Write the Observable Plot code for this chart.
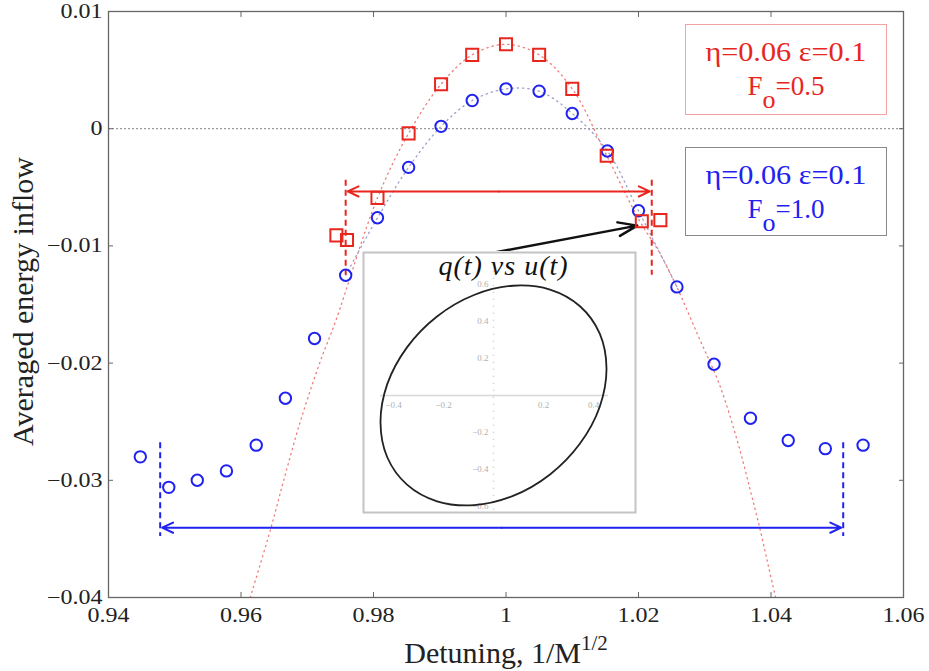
<!DOCTYPE html>
<html><head><meta charset="utf-8">
<script src="https://cdn.jsdelivr.net/npm/d3@7"></script>
<script src="https://cdn.jsdelivr.net/npm/@observablehq/plot@0.6"></script>
<style>
body{margin:0;background:#fff;}
#wrap{position:relative;width:929px;height:671px;font-family:"Liberation Serif","Times New Roman",serif;overflow:hidden;}
#wrap svg text, #wrap svg tspan{font-family:"Liberation Serif","Times New Roman",serif;}
.leg{position:absolute;box-sizing:border-box;text-align:center;line-height:30px;background:#fff;font-family:"Liberation Serif",serif;}
.leg .l1{font-size:27px;display:inline-block;transform:scaleX(1.12);font-family:"Liberation Serif",serif;}
.leg .l2{font-size:27px;}
.leg .sub{position:relative;top:13px;font-size:26px;}
#inset{position:absolute;left:362px;top:251px;}
</style></head><body><div id="wrap"></div>
<script>
// ---- data: F0 = 1.0 (blue circles)
const blueX = [0.9448,0.9491,0.9534,0.9578,0.9623,0.9667,0.9711,0.9758,0.9806,0.9853,0.9902,0.9949,1.0000,1.0050,1.0100,1.0153,1.0200,1.0258,1.0314,1.0369,1.0426,1.0482,1.0539];
const blueY = [-0.0280,-0.0306,-0.0300,-0.0292,-0.0270,-0.0230,-0.0179,-0.0125,-0.0076,-0.0033,0.0002,0.0024,0.0034,0.0032,0.0013,-0.0019,-0.0070,-0.0135,-0.0201,-0.0247,-0.0266,-0.0273,-0.0270];
// ---- data: F0 = 0.5 (red squares)
const redX = [0.9744,0.9760,0.9806,0.9853,0.9902,0.9949,1.0000,1.0050,1.0100,1.0152,1.0205,1.0233];
const redY = [-0.0091,-0.0095,-0.0059,-0.0004,0.0038,0.0063,0.0072,0.0063,0.0034,-0.0023,-0.0079,-0.0078];
// ---- dotted curves
const redCurveX = [0.9614,0.9645,0.9664,0.9690,0.9720,0.9743,0.9806,0.9853,0.9902,0.9949,1.0000,1.0050,1.0100,1.0152,1.0203,1.0230,1.0257,1.0291,1.0322,1.0349,1.0369,1.0384,1.0396,1.0407];
const redCurveY = [-0.0400,-0.0341,-0.0301,-0.0249,-0.0198,-0.0164,-0.0059,-0.0004,0.0038,0.0063,0.0072,0.0063,0.0034,-0.0023,-0.0080,-0.0104,-0.0134,-0.0178,-0.0218,-0.0266,-0.0309,-0.0343,-0.0373,-0.0400];
const blueCurveX = [0.9758,0.9806,0.9853,0.9902,0.9949,1.0000,1.0050,1.0100,1.0153,1.0200,1.0258];
const blueCurveY = [-0.0125,-0.0076,-0.0033,0.0002,0.0024,0.0034,0.0032,0.0013,-0.0019,-0.0070,-0.0135];
// ---- resonance-width markers
const widthColor = ["#e8261e","#1f22f0"];
const widthLeft = [0.9758,0.9478];
const widthRight = [1.0220,1.0509];
const widthArrowY = [-0.00535,-0.03404];
const widthDashTop = [-0.0044,-0.0268];
const widthDashBottom = [-0.0125,-0.0348];
// ---- pointer arrow from inset
const pointerFrom = [0.9981,-0.01058];
const pointerTo = [1.0198,-0.00827];
// ---- ticks & labels
const xTicks = [0.94,0.96,0.98,1,1.02,1.04,1.06];
const xTickLabels = ["0.94","0.96","0.98","1","1.02","1.04","1.06"];
const yTicks = [0.01,0,-0.01,-0.02,-0.03,-0.04];
const yTickLabels = ["0.01","0","\u22120.01","\u22120.02","\u22120.03","\u22120.04"];
const xLabel = ["Detuning, 1/M","1/2"];
const yLabel = "Averaged energy inflow";
const legendTexts = [["\u03b7=0.06 \u03b5=0.1","F","o","=0.5"],["\u03b7=0.06 \u03b5=0.1","F","o","=1.0"]];
// ---- inset: q(t) vs u(t)
const insetTitle = "q(t) vs u(t)";
const ellipseU = [0.452,0.425,0.346,0.226,0.078,-0.078,-0.226,-0.346,-0.425,-0.452,-0.425,-0.346,-0.226,-0.078,0.078,0.226,0.346,0.425];
const ellipseQ = [0.145,0.334,0.482,0.572,0.593,0.543,0.427,0.260,0.061,-0.145,-0.334,-0.482,-0.572,-0.593,-0.543,-0.427,-0.260,-0.061];
const insetXTicks = [-0.4,-0.2,0.2,0.4];
const insetXTickLabels = ["\u22120.4","\u22120.2","0.2","0.4"];
const insetYTicks = [0.6,0.4,0.2,-0.2,-0.4,-0.6];
const insetYTickLabels = ["0.6","0.4","0.2","\u22120.2","\u22120.4","\u22120.6"];

const blue = blueX.map((x,i)=>({x, y: blueY[i]}));
const red = redX.map((x,i)=>({x, y: redY[i]}));
const redCurve = redCurveX.map((x,i)=>({x, y: redCurveY[i]}));
const blueCurve = blueCurveX.map((x,i)=>({x, y: blueCurveY[i]}));
const widths = widthColor.map((c,i)=>({c, l: widthLeft[i], r: widthRight[i], y: widthArrowY[i], t: widthDashTop[i], b: widthDashBottom[i], m:(widthLeft[i]+widthRight[i])/2}));
const dashes = widths.flatMap(w=>[{x:w.l,y1:w.t,y2:w.b,c:w.c},{x:w.r,y1:w.t,y2:w.b,c:w.c}]);
const arrows = widths.flatMap(w=>[{x1:w.m,x2:w.l,y:w.y,c:w.c},{x1:w.m,x2:w.r,y:w.y,c:w.c}]);
const ellipse = ellipseU.map((u,i)=>({u, q: ellipseQ[i]}));

const font = "Liberation Serif";
const main = Plot.plot({
  width: 929, height: 671,
  marginLeft: 108, marginRight: 26, marginTop: 11, marginBottom: 74,
  x: {domain: [0.94, 1.06]},
  y: {domain: [-0.04, 0.01]},
  style: {fontFamily: font, fontSize: "20px", background: "white", color: "#222"},
  marks: [
    Plot.ruleY([0], {stroke: "#9a9a9a", strokeDasharray: "2,2", strokeWidth: 1.3}),
    Plot.line(redCurve, {x: "x", y: "y", stroke: "#f07a7a", strokeDasharray: "1.3,4", strokeWidth: 1.3, curve: "catmull-rom"}),
    Plot.line(blueCurve, {x: "x", y: "y", stroke: "#9aa0c8", strokeDasharray: "1.3,4", strokeWidth: 1.3, curve: "catmull-rom"}),
    Plot.ruleX(dashes, {x: "x", y1: "y1", y2: "y2", stroke: "c", strokeDasharray: "6,4", strokeWidth: 2}),
    Plot.arrow(arrows, {x1: "x1", x2: "x2", y1: "y", y2: "y", stroke: "c", strokeWidth: 2, headLength: 9, headAngle: 50, insetEnd: 2}),
    Plot.arrow([{x1: pointerFrom[0], y1: pointerFrom[1], x2: pointerTo[0], y2: pointerTo[1]}], {x1: "x1", y1: "y1", x2: "x2", y2: "y2", stroke: "#111", strokeWidth: 2.5, headLength: 12, headAngle: 40}),
    Plot.dot(blue, {x: "x", y: "y", r: 5.7, stroke: "#1f22f0", strokeWidth: 2}),
    Plot.dot(red, {x: "x", y: "y", symbol: "square", r: 6.8, stroke: "#e8261e", strokeWidth: 2}),
    Plot.axisX({ticks: xTicks, tickFormat: d => xTickLabels[xTicks.indexOf(d)], tickSize: -5, tickPadding: 15.5, label: null, stroke: "#666", fontFamily: font}),
    Plot.axisX({anchor: "top", ticks: xTicks, tickFormat: () => "", tickSize: -5, label: null, stroke: "#666"}),
    Plot.axisY({ticks: yTicks, tickFormat: d => yTickLabels[yTicks.indexOf(d)], tickSize: -5, tickPadding: 11, label: null, stroke: "#666", fontFamily: font}),
    Plot.axisY({anchor: "right", ticks: yTicks, tickFormat: () => "", tickSize: -5, label: null, stroke: "#666"}),
    Plot.frame({stroke: "#666", strokeWidth: 1.3}),
    Plot.text([yLabel], {text: d => d, frameAnchor: "left", textAnchor: "middle", lineAnchor: "middle", dx: -85, dy: -3, rotate: -90, fontSize: 30, fontFamily: font, fill: "#222"}),
    Plot.text([xLabel[0]], {text: d => d, frameAnchor: "bottom", textAnchor: "middle", lineAnchor: "middle", dy: 55.4, fontSize: 30, fontFamily: font, fill: "#222"})
  ]
});

const wrap = document.getElementById("wrap");
wrap.appendChild(main);
const svg = d3.select(main);
svg.selectAll("text").attr("font-family", font);
// widen tick labels like the reference's stretched glyphs
svg.selectAll('g[aria-label="x-axis tick label"] text, g[aria-label="y-axis tick label"] text').each(function(){
  if (!this.textContent) return;
  const len = this.getComputedTextLength();
  this.setAttribute("textLength", (len * 1.2).toFixed(1));
  this.setAttribute("lengthAdjust", "spacingAndGlyphs");
});
svg.selectAll("text").filter(function(){ return this.textContent === xLabel[0]; })
  .each(function(){
    const t = d3.select(this);
    t.text(null);
    t.append("tspan").text(xLabel[0]);
    t.append("tspan").attr("dy", "-13").attr("font-size", 21).text(xLabel[1]);
  });

// inset
const inset = Plot.plot({
  width: 274, height: 262, margin: 0,
  x: {domain: [-0.524, 0.572], axis: null},
  y: {domain: [-0.638, 0.778], axis: null},
  style: {fontFamily: font, background: "white", overflow: "visible"},
  marks: [
    Plot.frame({stroke: "#c4c4c4", strokeWidth: 2, inset: 1}),
    Plot.ruleY([0], {x1: -0.452, x2: 0.46, stroke: "#d8d8d8", strokeWidth: 1.5}),
    Plot.ruleX([0], {y1: -0.62, y2: 0.72, stroke: "#c8c8c8", strokeWidth: 1.5, strokeDasharray: "1,6"}),
    Plot.text(insetXTicks, {x: d => d, y: 0, text: d => insetXTickLabels[insetXTicks.indexOf(d)], dy: 10, fontSize: 9, fill: "#b0b0b0"}),
    Plot.text(insetYTicks, {x: 0, y: d => d, text: d => insetYTickLabels[insetYTicks.indexOf(d)], textAnchor: "end", dx: -5, fontSize: 9, fill: "#b0b0b0"}),
    Plot.line(ellipse, {x: "u", y: "q", curve: "catmull-rom-closed", stroke: "#222", strokeWidth: 1.8}),
    Plot.text([insetTitle], {text: d => d, frameAnchor: "top", lineAnchor: "top", dx: 4, dy: 4, fontSize: 28, fontStyle: "italic", fill: "#111"})
  ]
});
const insetDiv = document.createElement("div");
insetDiv.id = "inset";
insetDiv.appendChild(inset);
wrap.appendChild(insetDiv);
d3.select(inset).selectAll("text").attr("font-family", font);
d3.select(inset).selectAll("text").filter(function(){ return this.textContent === insetTitle; })
  .attr("letter-spacing", 1);

// legend boxes
const legendBoxes = [
  {left: 685, top: 24, w: 202, h: 91, border: "#f4a3a3", color: "#e8261e", pad: 12},
  {left: 685, top: 147, w: 202, h: 89, border: "#8a8a8a", color: "#1f22f0", pad: 11.5}
];
legendBoxes.forEach((b, i) => {
  const d = document.createElement("div");
  d.className = "leg";
  Object.assign(d.style, {left: b.left + "px", top: b.top + "px", width: b.w + "px", height: b.h + "px", border: "1px solid " + b.border, color: b.color, paddingTop: b.pad + "px"});
  const t = legendTexts[i];
  const l1w = document.createElement("div");
  const l1 = document.createElement("span"); l1.className = "l1"; l1.textContent = t[0];
  l1w.appendChild(l1);
  const l2 = document.createElement("div"); l2.className = "l2";
  l2.append(t[1]);
  const s = document.createElement("span"); s.className = "sub"; s.textContent = t[2];
  l2.append(s, t[3]);
  d.append(l1w, l2);
  wrap.appendChild(d);
});
</script>
</body></html>
